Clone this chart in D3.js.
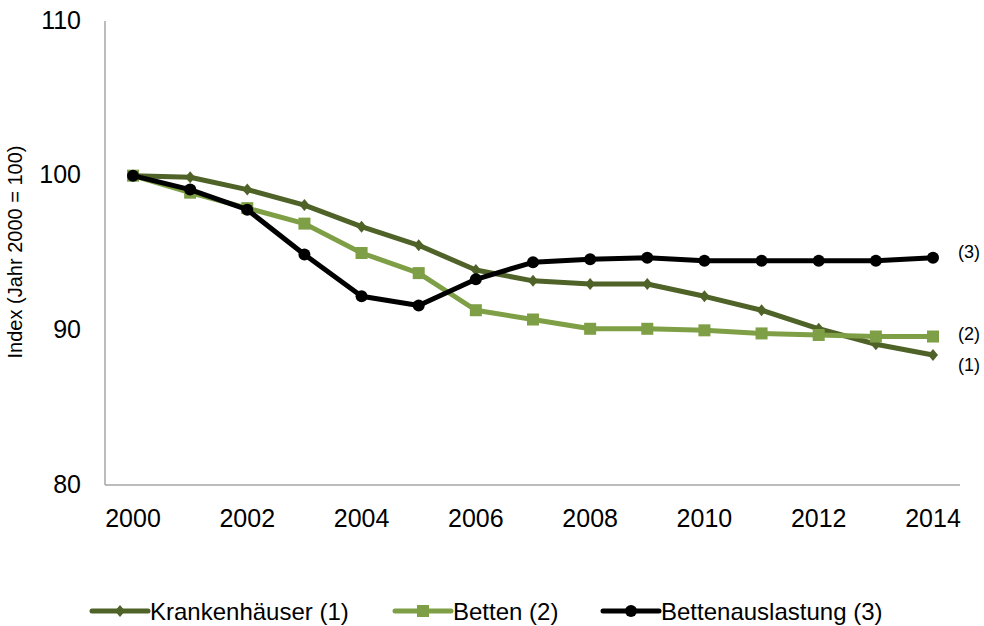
<!DOCTYPE html>
<html>
<head>
<meta charset="utf-8">
<script src="https://cdn.jsdelivr.net/npm/d3@7"></script>
<style>
  body { margin: 0; background: #fff; }
  text { font-family: "Liberation Sans", Arial, sans-serif; }
</style>
</head>
<body>
<div id="chart"></div>
<script>
// Data
const years = [2000, 2001, 2002, 2003, 2004, 2005, 2006, 2007, 2008, 2009, 2010, 2011, 2012, 2013, 2014];
const krankenhaeuser = [100, 99.9, 99.1, 98.1, 96.7, 95.5, 93.9, 93.2, 93.0, 93.0, 92.2, 91.3, 90.1, 89.1, 88.4];
const betten = [100, 98.9, 97.9, 96.9, 95.0, 93.7, 91.3, 90.7, 90.1, 90.1, 90.0, 89.8, 89.7, 89.6, 89.6];
const auslastung = [100, 99.1, 97.8, 94.9, 92.2, 91.6, 93.3, 94.4, 94.6, 94.7, 94.5, 94.5, 94.5, 94.5, 94.7];
const yTicks = [80, 90, 100, 110];
const xTicks = [2000, 2002, 2004, 2006, 2008, 2010, 2012, 2014];

const series = [
  { name: "Krankenhäuser (1)", tag: "(1)", values: krankenhaeuser, color: "#4F6228", marker: "diamond" },
  { name: "Betten (2)", tag: "(2)", values: betten, color: "#7E9F45", marker: "square" },
  { name: "Bettenauslastung (3)", tag: "(3)", values: auslastung, color: "#000000", marker: "circle" }
];

const width = 984, height = 626;
const svg = d3.select("#chart").append("svg")
  .attr("width", width).attr("height", height);

const x = d3.scaleLinear().domain([2000, 2014]).range([133, 933]);
const y = d3.scaleLinear().domain([80, 110]).range([485, 21]);

// axes lines
svg.append("line").attr("x1", 105).attr("x2", 105).attr("y1", y(110)).attr("y2", y(80))
  .attr("stroke", "#A6A6A6").attr("stroke-width", 1.5);
svg.append("line").attr("x1", 105).attr("x2", 960).attr("y1", y(80)).attr("y2", y(80))
  .attr("stroke", "#A6A6A6").attr("stroke-width", 1.5);

// y tick labels
svg.selectAll("text.ytick").data(yTicks).enter().append("text")
  .attr("class", "ytick")
  .attr("x", 81).attr("y", d => y(d) - 1)
  .attr("dy", "0.35em")
  .attr("text-anchor", "end")
  .attr("font-size", 25)
  .attr("fill", "#000")
  .text(d => d);

// x tick labels
svg.selectAll("text.xtick").data(xTicks).enter().append("text")
  .attr("class", "xtick")
  .attr("x", d => x(d)).attr("y", 527)
  .attr("text-anchor", "middle")
  .attr("font-size", 25)
  .attr("fill", "#000")
  .text(d => d);

// y axis title
svg.append("text")
  .attr("transform", "translate(22,252) rotate(-90)")
  .attr("text-anchor", "middle")
  .attr("font-size", 20)
  .text("Index (Jahr 2000 = 100)");

const line = d3.line().x((d, i) => x(years[i])).y(d => y(d));

function drawMarker(g, type, cx, cy, color) {
  if (type === "diamond") {
    g.append("path")
      .attr("d", `M${cx},${cy - 6}L${cx + 5},${cy}L${cx},${cy + 6}L${cx - 5},${cy}Z`)
      .attr("fill", color);
  } else if (type === "square") {
    g.append("rect").attr("x", cx - 6).attr("y", cy - 6).attr("width", 12).attr("height", 12)
      .attr("fill", color);
  } else {
    g.append("circle").attr("cx", cx).attr("cy", cy).attr("r", 6).attr("fill", color);
  }
}

series.forEach(s => {
  const g = svg.append("g");
  g.append("path").datum(s.values)
    .attr("d", line)
    .attr("fill", "none")
    .attr("stroke", s.color)
    .attr("stroke-width", 5)
    .attr("stroke-linejoin", "round");
  s.values.forEach((v, i) => drawMarker(g, s.marker, x(years[i]), y(v), s.color));
});

// end labels
const tagPos = { "(3)": 252, "(2)": 334, "(1)": 365 };
series.forEach(s => {
  svg.append("text")
    .attr("x", 958).attr("y", tagPos[s.tag])
    .attr("dy", "0.35em")
    .attr("font-size", 18)
    .text(s.tag);
});

// legend
const legendX = [92, 395, 603];
series.forEach((s, i) => {
  const g = svg.append("g");
  const lx = legendX[i], ly = 611;
  g.append("line").attr("x1", lx).attr("x2", lx + 56).attr("y1", ly).attr("y2", ly)
    .attr("stroke", s.color).attr("stroke-width", 5).attr("stroke-linecap", "round");
  drawMarker(g, s.marker, lx + 28, ly, s.color);
  g.append("text").attr("x", lx + 58).attr("y", ly + 1).attr("dy", "0.35em")
    .attr("font-size", 24).text(s.name);
});
</script>
</body>
</html>
